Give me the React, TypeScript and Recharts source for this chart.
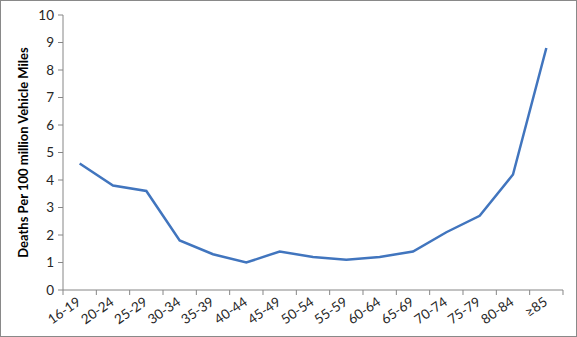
import React from "react";
import { LineChart, Line, XAxis, YAxis } from "recharts";

// age groups and fatality rate per 100 million vehicle miles
const ageGroups = [
  "16-19", "20-24", "25-29", "30-34", "35-39", "40-44", "45-49",
  "50-54", "55-59", "60-64", "65-69", "70-74", "75-79", "80-84", "≥85",
];
const deathRates = [4.6, 3.8, 3.6, 1.8, 1.3, 1.0, 1.4, 1.2, 1.1, 1.2, 1.4, 2.1, 2.7, 4.2, 8.8];
const yTicks = [0, 1, 2, 3, 4, 5, 6, 7, 8, 9, 10];

const data = ageGroups.map((age, i) => ({ age, rate: deathRates[i] }));

const FONT = "Lato, 'Open Sans', sans-serif";
const AXIS = "#868686";
const PLOT_W = 500;
const BAND = PLOT_W / ageGroups.length;

// Excel-style category tick: marks sit between categories
const AgeTick = (props: any) => {
  const { x, y, payload, index } = props;
  const last = index === ageGroups.length - 1;
  return (
    <g transform={`translate(${x},${y})`}>
      <line x1={-BAND / 2} y1={0} x2={-BAND / 2} y2={5} stroke={AXIS} />
      {last && <line x1={BAND / 2} y1={0} x2={BAND / 2} y2={5} stroke={AXIS} />}
      <text
        x={2}
        y={14}
        textAnchor="end"
        transform="rotate(-35 2 14)"
        fontSize={13.5}
        fontFamily={FONT}
        fill="#262626"
      >
        {payload.value}
      </text>
    </g>
  );
};

export default function App() {
  return (
    <div
      style={{
        position: "absolute",
        left: 0,
        top: 0,
        width: 575,
        height: 335,
        border: "1px solid #898989",
        background: "#fff",
      }}
    >
      <LineChart
        width={575}
        height={335}
        data={data}
        margin={{ top: 14, right: 13, bottom: 0, left: 0 }}
      >
        <XAxis
          dataKey="age"
          interval={0}
          tickSize={0}
          tickMargin={0}
          tickLine={false}
          stroke={AXIS}
          height={46}
          padding={{ left: BAND / 2, right: BAND / 2 }}
          tick={<AgeTick />}
        />
        <YAxis
          domain={[0, 10]}
          ticks={yTicks}
          interval={0}
          width={62}
          stroke={AXIS}
          tickSize={5}
          tickMargin={4}
          tick={{ fontSize: 13.5, fontFamily: FONT, fill: "#262626" }}
          label={{
            value: "Deaths Per 100 million Vehicle Miles",
            angle: -90,
            position: "insideLeft",
            offset: 22,
            style: { textAnchor: "middle", fontSize: 13, fontWeight: "bold", fontFamily: FONT, fill: "#000" },
          }}
        />
        <Line
          dataKey="rate"
          type="linear"
          stroke="#4175be"
          strokeWidth={2.5}
          dot={false}
          isAnimationActive={false}
        />
      </LineChart>
    </div>
  );
}
